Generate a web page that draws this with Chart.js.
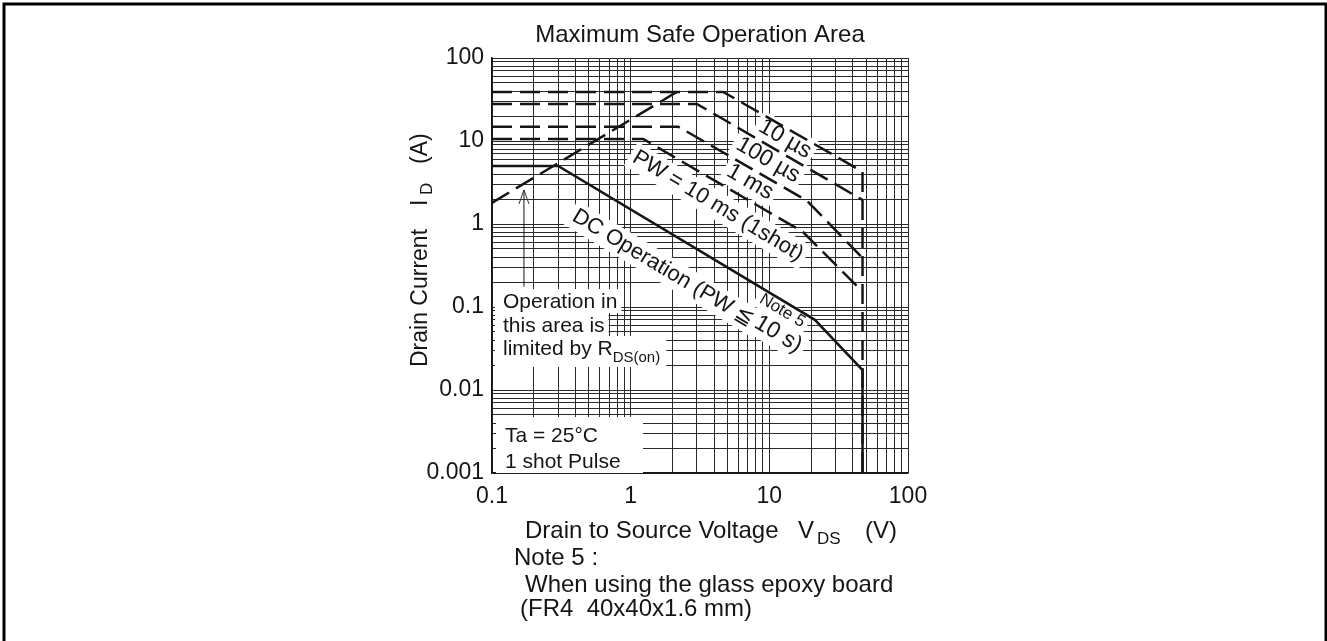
<!DOCTYPE html>
<html>
<head>
<meta charset="utf-8">
<script src="https://cdn.jsdelivr.net/npm/chart.js@4.4.1/dist/chart.umd.min.js"></script>
<style>
  html, body { margin: 0; padding: 0; background: #fff; }
  #wrap { width: 1327px; height: 641px; }
</style>
</head>
<body>
<div id="wrap"><canvas id="soa" width="1327" height="641"></canvas></div>
<script>
const xTickLabels = ['0.1', '1', '10', '100'];
const yTickLabels = ['0.001', '0.01', '0.1', '1', '10', '100'];

// corner points: V_DS (V) and I_D (A)
const us10V = [0.1, 4.65, 47, 47];
const us10I = [39, 39, 4.27, 0.001];
const us100V = [0.1, 3.0, 47];
const us100I = [28, 28, 1.95];
const ms1V = [0.1, 2.2, 18.6, 47];
const ms1I = [14.9, 14.9, 1.92, 0.39];
const ms10V = [0.1, 1.23, 17.5, 47];
const ms10I = [10.6, 10.6, 0.8, 0.153];
const dcV = [0.1, 0.3, 21.3, 47, 47];
const dcI = [5.0, 5.0, 0.07, 0.0174, 0.001];
const rdsV = [0.1, 2.15];
const rdsI = [1.8, 39];
const arrowV = [0.17, 0.17];
const arrowI = [0.176, 2.57];

const family = "'Liberation Sans', Arial, sans-serif";
const ink = '#151515';

// rotated curve captions, anchored in data units
const captions = [
  { text: '10 µs', x: 12.96, y: 10.57, angle: 30, size: 23 },
  { text: '100 µs', x: 9.77, y: 5.9, angle: 30, size: 23 },
  { text: '1 ms', x: 7.25, y: 3.21, angle: 30, size: 23 },
  { text: 'PW = 10 ms (1shot)', x: 4.26, y: 1.65, angle: 31, size: 22 },
  { text: 'DC Operation (PW \u2266', x: 1.71, y: 0.295, angle: 31, size: 22 },
  { text: 'Note 5', x: 12.4, y: 0.09, angle: 31, size: 17 },
  { text: '10 s)', x: 11.6, y: 0.047, angle: 31, size: 23 },
];

function logTicks(labels) {
  const lo = Number(labels[0]), hi = Number(labels[labels.length - 1]);
  const out = [];
  for (let d = lo; d < hi * 0.999; d *= 10) {
    for (let m = 1; m < 10; m++) out.push(+(m * d).toPrecision(3));
  }
  out.push(hi);
  return out;
}
const labelFor = labels => v => labels.find(l => Math.abs(Number(l) / v - 1) < 1e-6) || '';

function series(v, i, dash, width) {
  return {
    data: v.map((x, k) => ({ x, y: i[k] })),
    showLine: true, borderColor: ink, borderWidth: width, borderDash: dash,
    pointRadius: 0, tension: 0, fill: false, borderCapStyle: 'butt', borderJoinStyle: 'miter'
  };
}

const dash = [20, 8];

const decor = {
  id: 'decor',
  beforeDraw(chart) {
    const ctx = chart.ctx;
    ctx.save();
    ctx.fillStyle = '#fff';
    ctx.fillRect(0, 0, chart.width, chart.height);
    ctx.strokeStyle = '#000';
    ctx.lineWidth = 3;
    ctx.strokeRect(4, 4, 1322, 700);
    ctx.restore();
  },
  beforeDatasetsDraw(chart) {
    const ctx = chart.ctx, xs = chart.scales.x, ys = chart.scales.y, a = chart.chartArea;
    ctx.save();
    // captions along the curves
    captions.forEach(c => {
      const px = xs.getPixelForValue(c.x), py = ys.getPixelForValue(c.y);
      ctx.save();
      ctx.translate(px, py);
      ctx.rotate(c.angle * Math.PI / 180);
      ctx.font = `${c.size}px ${family}`;
      const w = ctx.measureText(c.text).width;
      ctx.fillStyle = '#fff';
      ctx.fillRect(-w / 2 - 4, -c.size * 0.62, w + 8, c.size * 1.24);
      ctx.fillStyle = ink;
      ctx.textAlign = 'center';
      ctx.textBaseline = 'middle';
      ctx.fillText(c.text, 0, 0);
      ctx.restore();
    });

    // R_DS(on) note
    const lx = a.left + 11;
    ctx.font = `21px ${family}`;
    ctx.textBaseline = 'alphabetic';
    ctx.textAlign = 'left';
    const rows = [['Operation in', 308], ['this area is', 332]];
    rows.forEach(([t, b]) => {
      const w = ctx.measureText(t).width;
      ctx.fillStyle = '#fff';
      ctx.fillRect(a.left + 3, b - 19, w + 12, 24);
      ctx.fillStyle = ink;
      ctx.fillText(t, lx, b);
    });
    const base3 = 355;
    const w3a = ctx.measureText('limited by R').width;
    ctx.font = `15px ${family}`;
    const w3b = ctx.measureText('DS(on)').width;
    ctx.fillStyle = '#fff';
    ctx.fillRect(a.left + 3, base3 - 19, w3a + w3b + 14, 31);
    ctx.fillStyle = ink;
    ctx.font = `21px ${family}`;
    ctx.fillText('limited by R', lx, base3);
    ctx.font = `15px ${family}`;
    ctx.fillText('DS(on)', lx + w3a, base3 + 7);

    // conditions box
    ctx.fillStyle = '#fff';
    ctx.fillRect(a.left + 4, 417, 147, a.bottom - 417);
    ctx.fillStyle = ink;
    ctx.font = `21px ${family}`;
    ctx.fillText('Ta = 25°C', a.left + 13, 442);
    ctx.fillText('1 shot Pulse', a.left + 13, 468);
    ctx.restore();
  },
  afterDatasetsDraw(chart) {
    const ctx = chart.ctx, xs = chart.scales.x, ys = chart.scales.y;
    const tx = xs.getPixelForValue(arrowV[1]), ty = ys.getPixelForValue(arrowI[1]);
    ctx.save();
    ctx.strokeStyle = '#333';
    ctx.lineWidth = 1;
    ctx.beginPath();
    ctx.moveTo(tx - 5, ty + 14);
    ctx.lineTo(tx, ty);
    ctx.lineTo(tx + 5, ty + 14);
    ctx.stroke();
    ctx.restore();
  },
  afterDraw(chart) {
    const ctx = chart.ctx;
    ctx.save();
    ctx.fillStyle = ink;
    ctx.textBaseline = 'alphabetic';
    ctx.textAlign = 'center';
    ctx.font = `24px ${family}`;
    ctx.fillText('Maximum Safe Operation Area', 700, 42);

    ctx.textAlign = 'left';
    ctx.fillText('Drain to Source Voltage', 525, 538);
    ctx.fillText('V', 798, 538);
    ctx.fillText('(V)', 865, 538);
    ctx.font = `17px ${family}`;
    ctx.fillText('DS', 817, 544);

    ctx.font = `24px ${family}`;
    ctx.fillText('Note 5 :', 514, 565);
    ctx.fillText('When using the glass epoxy board', 525, 592);
    ctx.fillText('(FR4  40x40x1.6 mm)', 520, 616);

    // vertical axis title
    ctx.translate(427, 367);
    ctx.rotate(-Math.PI / 2);
    ctx.font = `23px ${family}`;
    ctx.fillText('Drain Current', 0, 0);
    ctx.fillText('I', 161, 0);
    ctx.fillText('(A)', 203, 0);
    ctx.font = `17px ${family}`;
    ctx.fillText('D', 172, 5);
    ctx.restore();
  }
};

const xTicks = logTicks(xTickLabels);
const yTicks = logTicks(yTickLabels);

new Chart(document.getElementById('soa'), {
  type: 'scatter',
  data: {
    datasets: [
      series(us10V, us10I, dash, 2.5),
      series(us100V, us100I, dash, 2.5),
      series(ms1V, ms1I, dash, 2.5),
      series(ms10V, ms10I, dash, 2.5),
      series(rdsV, rdsI, dash, 2.5),
      series(dcV, dcI, [], 2.5),
      series(arrowV, arrowI, [], 1)
    ]
  },
  options: {
    responsive: false,
    animation: false,
    layout: { padding: { left: 422, top: 58, right: 419, bottom: 128 } },
    plugins: { legend: { display: false }, tooltip: { enabled: false }, title: { display: false } },
    scales: {
      x: {
        type: 'logarithmic', min: 0.1, max: 100,
        afterBuildTicks: s => { s.ticks = xTicks.map(v => ({ value: v })); },
        afterFit: s => { s.height = 40; },
        grid: { color: '#2a2a2a', lineWidth: 1, drawTicks: false },
        border: { color: ink, width: 1.5 },
        ticks: { autoSkip: false, maxRotation: 0, minRotation: 0, padding: 10, color: ink,
                 font: { family, size: 23 }, callback: labelFor(xTickLabels) }
      },
      y: {
        type: 'logarithmic', min: 0.001, max: 100,
        afterBuildTicks: s => { s.ticks = yTicks.map(v => ({ value: v })); },
        afterFit: s => { s.width = 70; },
        grid: { color: '#2a2a2a', lineWidth: 1, drawTicks: false },
        border: { color: ink, width: 1.5 },
        ticks: { autoSkip: false, padding: 8, color: ink,
                 font: { family, size: 23 }, callback: labelFor(yTickLabels) }
      }
    }
  },
  plugins: [decor]
});
</script>
</body>
</html>
